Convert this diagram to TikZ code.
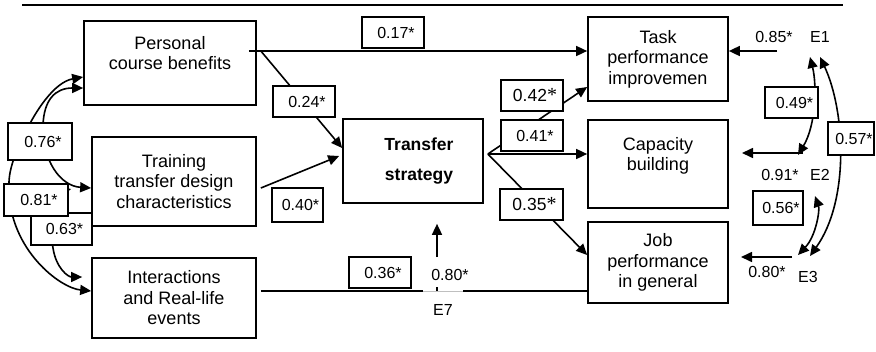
\documentclass[tikz,border=0pt]{standalone}
\usepackage{fontspec}
\setmainfont{Liberation Sans}
\newfontfamily\astfont{Liberation Serif}
\usetikzlibrary{arrows.meta}
\begin{document}
\begin{tikzpicture}[x=1pt,y=-1pt,
  box/.style={draw, fill=white, line width=1.7pt, inner sep=0pt, align=center,
              font=\fontsize{18}{20.5}\selectfont},
  lab/.style={draw, fill=white, line width=1.7pt, inner sep=0pt, minimum height=31pt,
              font=\fontsize{16}{18}\selectfont, execute at begin node={\hspace{6pt}}},
  txt/.style={inner sep=0pt, font=\fontsize{16}{18}\selectfont},
  link/.style={line width=1.6pt},
  tip/.tip={Triangle[length=11pt,width=10pt]},
  arr/.style={link, -tip},
  cov/.style={link, tip-tip},
]
\useasboundingbox (0,0) rectangle (876,351);

% top rule
\draw[line width=2.5pt] (22,5) -- (843,5);

% latent constructs
\node[box, minimum width=172pt, minimum height=84pt] (pcb) at (170,63)
  {Personal\\course benefits\\\mbox{}};
\node[box, minimum width=164pt, minimum height=89pt] (ttd) at (174,181.5)
  {Training\\transfer design\\characteristics};
\node[box, minimum width=164pt, minimum height=80pt] (ire) at (174,298)
  {Interactions\\and Real-life\\events};
\node[box, minimum width=140pt, minimum height=84pt,
      font=\bfseries\fontsize{17.5}{30}\selectfont] (ts) at (413,161)
  {\hspace{12pt}Transfer\\\hspace{12pt}strategy};
\node[box, minimum width=140pt, minimum height=84pt] (tpi) at (658,59)
  {Task\\performance\\improvemen};
\node[box, minimum width=140pt, minimum height=88pt] (cb) at (658,164)
  {Capacity\\building\\\mbox{}};
\node[box, minimum width=140pt, minimum height=81pt] (jpg) at (658,262.5)
  {Job\\performance\\in general};

% structural paths
\coordinate (p0) at ([xshift=-8pt,yshift=12pt]pcb.east);
\coordinate (p1) at ([xshift=4pt,yshift=12pt]pcb.east);
\draw[arr] (p0) -- (p0 -| tpi.west);
\draw[arr] (p1) -- ([yshift=13pt]ts.west);
\draw[arr] ([xshift=4pt,yshift=-6.5pt]ttd.east) -- ([xshift=-3pt,yshift=5pt]ts.west);

\coordinate (i0) at ([xshift=4pt,yshift=7pt]ire.east);
\coordinate (gl) at (423,291);
\coordinate (gr) at (463,291);
\draw[link] (i0) -- (gl);
\draw[black!25, line width=0.6pt] (gl) -- (gr);
\draw[link] (gr) -- (gr -| jpg.west);

\coordinate (f) at ([xshift=4pt,yshift=7pt]ts.east);
\draw[arr] (f) -- ([yshift=-28pt]tpi.west);
\draw[arr] (f) -- (f -| cb.west);
\draw[arr] (f) -- ([yshift=7.5pt]jpg.west);

% residual terms
\node[txt] (e1) at (820,37) {E1};
\node[txt] (e2) at (820,175) {E2};
\node[txt] (e3) at (808,277) {E3};
\node[txt] (e7) at (443,310) {E7};
\node[txt] (w1) at (774,37) {0.85*};
\node[txt] (w2) at (780,175) {0.91*};
\node[txt] (w3) at (767,272) {0.80*};
\node[txt] (w7) at (450,275) {0.80*};

\coordinate (e1s) at (777,51);
\coordinate (e2s) at (803,153);
\coordinate (e2t) at (742,153);
\coordinate (e3s) at (792,257);
\coordinate (e3t) at (741,257);
\coordinate (e7s) at (437,257);
\coordinate (e7b) at (437,287);
\draw[arr] (e1s) -- (e1s -| tpi.east);
\draw[arr] (e2s) -- (e2t);
\draw[arr] (e3s) -- (e3t);
\draw[arr] (e7s) -- ([yshift=-20pt]e7s |- ts.south);
\draw[link] (e7b) -- (e7b |- gl);

% correlations among residuals
\coordinate (c49a) at (798,155);
\coordinate (c49b) at (810,57);
\coordinate (c57a) at (820,57);
\coordinate (c57b) at (810,256);
\coordinate (c56a) at (815,196);
\coordinate (c56b) at (798,255);
\draw[cov] (c49a) .. controls (816,125) and (817,85) .. (c49b);
\draw[cov] (c57a) .. controls (845,110) and (850,200) .. (c57b);
\draw[cov] (c56b) .. controls (816,236) and (820,210) .. (c56a);

% correlations among exogenous constructs
\coordinate (a81) at ([yshift=-14pt]pcb.west);
\coordinate (b81) at ([yshift=7pt]ire.west);
\coordinate (a76) at ([yshift=-25pt]pcb.west);
\coordinate (b76) at ([yshift=-6.5pt]ttd.west);
\coordinate (a63) at ([xshift=-20pt,yshift=-7.5pt]ttd.west);
\coordinate (b63) at ([xshift=-9pt,yshift=21pt]ire.west);
\draw[cov] (a81) .. controls (55,82) and (35,110) .. (22,140)
                 .. controls (12,160) and (8,175) .. (9,190)
                 .. controls (10,250) and (60,288) .. (b81);
\draw[cov] (a76) .. controls (55,88) and (44,100) .. (43,125)
                 .. controls (42,160) and (60,186) .. (b76);
\draw[cov] (a63) .. controls (45,195) and (50,230) .. (53,248)
                 .. controls (56,268) and (68,277) .. (b63);

% coefficients
\node[lab, minimum width=62pt] (l17) at (393,32.5) {0.17*};
\node[lab, minimum width=62pt] (l24) at (304,101.5) {0.24*};
\node[lab, minimum width=51pt, minimum height=34pt] (l40) at (297.5,205) {0.40*};
\node[lab, minimum width=62pt, font=\fontsize{17.5}{20}\selectfont] (l42) at (532,95.5)
  {0.42{\astfont\fontsize{20}{20}\selectfont*}};
\node[lab, minimum width=62pt] (l41) at (532,135.5) {0.41*};
\node[lab, minimum width=63pt, font=\fontsize{17.5}{20}\selectfont] (l35) at (531.5,204.5)
  {0.35{\astfont\fontsize{20}{20}\selectfont*}};
\node[lab, minimum width=62pt] (l36) at (380,272.5) {0.36*};
\node[lab, minimum width=64pt, minimum height=37pt] (l76) at (40,141.5) {0.76*};
\node[lab, minimum width=61pt, minimum height=32pt] (l63) at (61.5,229) {0.63*};
\node[lab, minimum width=64pt, minimum height=32pt] (l81) at (36,200) {0.81*};
\node[lab, minimum width=53pt] (l49) at (791.5,102.5) {0.49*};
\node[lab, minimum width=50pt, minimum height=34pt] (l56) at (778,208) {0.56*};
\node[lab, minimum width=46pt, minimum height=33pt] (l57) at (851,138.5) {0.57*};
\end{tikzpicture}
\end{document}
